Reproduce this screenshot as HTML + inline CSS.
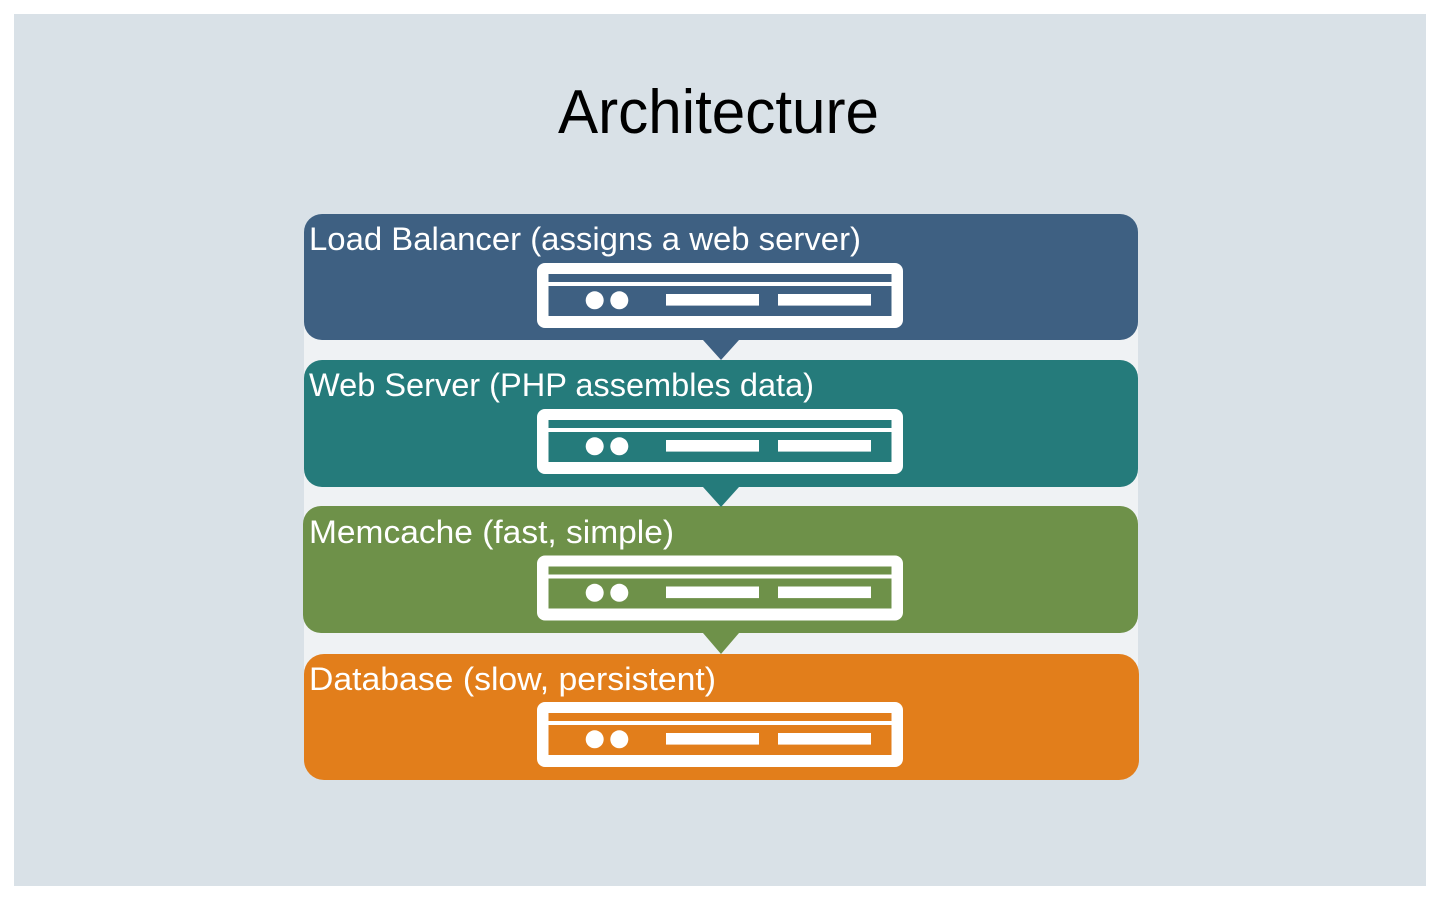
<!DOCTYPE html>
<html>
<head>
<meta charset="utf-8">
<title>Architecture</title>
<style>
html,body{margin:0;padding:0;background:#fff;width:1440px;height:900px;overflow:hidden}
svg{display:block}
text{font-family:"Liberation Sans",sans-serif}
.l{fill:#fff;font-size:32px}
</style>
</head>
<body>
<svg width="1440" height="900" viewBox="0 0 1440 900" xmlns="http://www.w3.org/2000/svg">
<defs>
<g id="srv">
<path fill="#fff" fill-rule="evenodd" d="M545 0H895a8 8 0 0 1 8 8V57a8 8 0 0 1-8 8H545a8 8 0 0 1-8-8V8a8 8 0 0 1 8-8ZM548.500 11V19H891.500V11ZM548.500 23V53H891.500V23Z"/>
<circle cx="594.700" cy="37.300" r="9" fill="#fff"/>
<circle cx="619.300" cy="37.300" r="9" fill="#fff"/>
<rect x="666" y="31" width="93" height="11.600" fill="#fff"/>
<rect x="778" y="31" width="93" height="11.600" fill="#fff"/>
</g>
</defs>
<rect width="1440" height="900" fill="#fff"/>
<rect x="14" y="14" width="1412" height="872" fill="#d9e1e7"/>
<text x="558" y="133" font-size="62" fill="#000" textLength="321" lengthAdjust="spacingAndGlyphs">Architecture</text>

<rect x="304" y="325" width="834" height="345" fill="#eff2f4"/>

<rect x="304" y="654" width="835" height="126" rx="20" fill="#e27e1b"/>
<path d="M703 633H739L721 654Z" fill="#6e9149"/>
<rect x="303" y="506" width="835" height="127" rx="18" fill="#6e9149"/>
<path d="M703 487H739L721 507Z" fill="#257b7b"/>
<rect x="304" y="360" width="834" height="127" rx="18" fill="#257b7b"/>
<path d="M703 340H739L721 360Z" fill="#3e6082"/>
<rect x="304" y="214" width="834" height="126" rx="18" fill="#3e6082"/>

<text class="l" x="309" y="250" textLength="552" lengthAdjust="spacingAndGlyphs">Load Balancer (assigns a web server)</text>
<text class="l" x="309" y="396" textLength="505" lengthAdjust="spacingAndGlyphs">Web Server (PHP assembles data)</text>
<text class="l" x="309" y="543" textLength="365" lengthAdjust="spacingAndGlyphs">Memcache (fast, simple)</text>
<text class="l" x="309" y="690" textLength="407" lengthAdjust="spacingAndGlyphs">Database (slow, persistent)</text>

<use href="#srv" x="0" y="263"/>
<use href="#srv" x="0" y="409"/>
<use href="#srv" x="0" y="555.500"/>
<use href="#srv" x="0" y="702"/>
</svg>
</body>
</html>
